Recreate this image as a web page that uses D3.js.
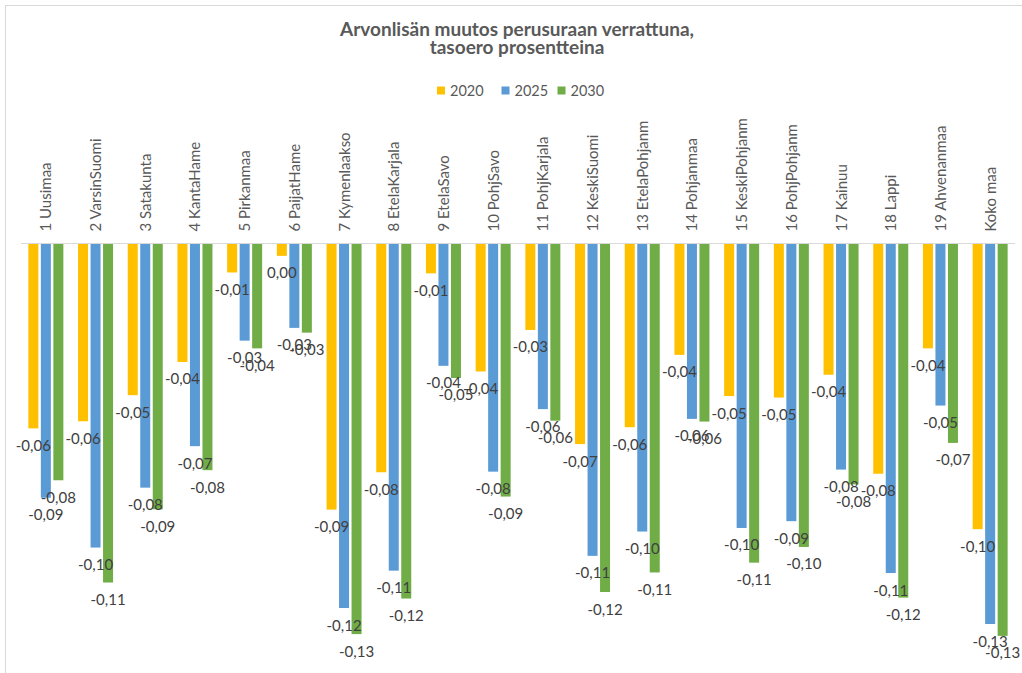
<!DOCTYPE html>
<html>
<head>
<meta charset="utf-8">
<script src="https://cdn.jsdelivr.net/npm/d3@7"></script>
<style>
  html, body { margin: 0; padding: 0; background: #fff; }
  svg { display: block; font-family: Lato, "Open Sans", sans-serif; }
</style>
</head>
<body>
<svg id="chart" width="1022" height="673"></svg>
<script>
// Regions (and the whole country) along the x axis
const categories = [
  "1 Uusimaa", "2 VarsinSuomi", "3 Satakunta", "4 KantaHame", "5 Pirkanmaa",
  "6 PaijatHame", "7 Kymenlaakso", "8 EtelaKarjala", "9 EtelaSavo", "10 PohjSavo",
  "11 PohjKarjala", "12 KeskiSuomi", "13 EtelaPohjanm", "14 Pohjanmaa", "15 KeskiPohjanm",
  "16 PohjPohjanm", "17 Kainuu", "18 Lappi", "19 Ahvenanmaa", "Koko maa"
];

const seriesNames = ["2020", "2025", "2030"];

// Change in value added vs. baseline, percentage points
const values2020 = [-0.0622, -0.0598, -0.0510, -0.0398, -0.0096, -0.0040, -0.0896, -0.0770, -0.0099, -0.0430,
                    -0.0290, -0.0675, -0.0618, -0.0374, -0.0513, -0.0518, -0.0441, -0.0775, -0.0352, -0.0962];
const values2025 = [-0.0856, -0.1024, -0.0822, -0.0682, -0.0326, -0.0283, -0.1228, -0.1102, -0.0411, -0.0768,
                    -0.0557, -0.1052, -0.0970, -0.0590, -0.0958, -0.0935, -0.0761, -0.1110, -0.0545, -0.1282];
const values2030 = [-0.0797, -0.1142, -0.0895, -0.0763, -0.0352, -0.0299, -0.1316, -0.1196, -0.0452, -0.0852,
                    -0.0596, -0.1174, -0.1108, -0.0599, -0.1075, -0.1022, -0.0811, -0.1193, -0.0671, -0.1322];

const titleLines = ["Arvonlisän muutos perusuraan verrattuna,", "tasoero prosentteina"];

const seriesColors = ["#FFC000", "#5B9BD5", "#70AD47"];
const seriesValues = [values2020, values2025, values2030];

const svg = d3.select("#chart");

// chart frame
svg.append("rect")
  .attr("x", 5.5).attr("y", 5.5)
  .attr("width", 1040).attr("height", 690)
  .attr("fill", "none").attr("stroke", "#d9d9d9").attr("stroke-width", 1);

// title
svg.append("text")
  .attr("x", 517).attr("y", 36)
  .attr("text-anchor", "middle")
  .attr("font-size", 19).attr("font-weight", "bold").attr("fill", "#595959")
  .selectAll("tspan").data(titleLines).join("tspan")
  .attr("x", 517).attr("dy", (d, i) => i === 0 ? 0 : 17.5)
  .text(d => d);

// legend
const legendX = [437, 501.5, 557.5];
const legend = svg.append("g");
seriesNames.forEach((name, i) => {
  legend.append("rect")
    .attr("x", legendX[i]).attr("y", 86.5)
    .attr("width", 8).attr("height", 8)
    .attr("fill", seriesColors[i]);
  legend.append("text")
    .attr("x", legendX[i] + 13).attr("y", 95.5)
    .attr("font-size", 14.5).attr("fill", "#595959")
    .text(name);
});

// scales
const x0 = d3.scaleBand().domain(categories).range([21, 1015]).padding(0);
const clusterWidth = 35;
const x1 = d3.scaleBand().domain(seriesNames)
  .range([0, clusterWidth]).paddingInner(0.2).paddingOuter(0);
const y = d3.scaleLinear().domain([-0.14, 0]).range([659, 244]);

const clusterOffset = (x0.bandwidth() - clusterWidth) / 2;

// zero line
svg.append("line")
  .attr("x1", x0.range()[0]).attr("x2", x0.range()[1])
  .attr("y1", y(0) - 0.5).attr("y2", y(0) - 0.5)
  .attr("stroke", "#d9d9d9").attr("stroke-width", 1);

// bars
const rows = [];
categories.forEach((c, ci) => {
  seriesNames.forEach((s, si) => {
    rows.push({ cat: c, series: s, si, value: seriesValues[si][ci] });
  });
});

const barX = d => x0(d.cat) + clusterOffset + x1(d.series);

svg.append("g").selectAll("rect").data(rows).join("rect")
  .attr("x", barX)
  .attr("y", d => y(Math.max(0, d.value)))
  .attr("width", x1.bandwidth())
  .attr("height", d => Math.abs(y(d.value) - y(0)))
  .attr("fill", d => seriesColors[d.si]);

// category labels, rotated, reading upward from above the zero line
svg.append("g").selectAll("text").data(categories).join("text")
  .attr("transform", c => `translate(${x0(c) + x0.bandwidth() / 2 + 5.5},231.5) rotate(-90)`)
  .attr("text-anchor", "start")
  .attr("font-size", 15).attr("fill", "#595959")
  .text(c => c);

// value labels at the outer end of each bar
const fmt = v => {
  const r = Math.round(v * 100) / 100;
  if (Math.abs(r) < 0.005) return "0,00";
  return r.toFixed(2).replace(".", ",");
};

svg.append("g").selectAll("text").data(rows).join("text")
  .attr("x", d => barX(d) + x1.bandwidth() / 2)
  .attr("y", d => y(d.value) + 22.5)
  .attr("text-anchor", "middle")
  .attr("font-size", 15).attr("fill", "#404040")
  .text(d => fmt(d.value));
</script>
</body>
</html>
